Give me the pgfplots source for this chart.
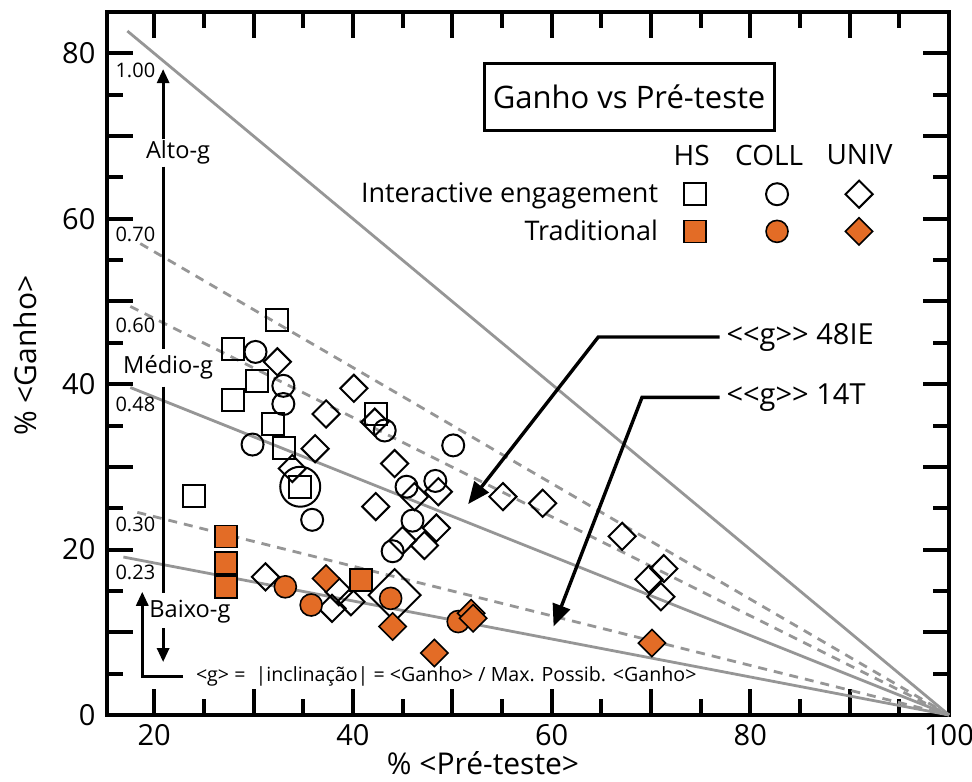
\documentclass[border=0pt]{standalone}
\usepackage{fontspec}
\setmainfont{Open Sans}
\usepackage{pgfplots}
\pgfplotsset{compat=1.18}
\usetikzlibrary{arrows.meta}

\definecolor{trad}{RGB}{227,108,38}
\definecolor{gline}{RGB}{150,150,150}

% keep << and >> from turning into guillemets
\newcommand{\dlt}{<\kern0pt<}
\newcommand{\dgt}{>\kern0pt>}

\begin{document}
\begin{tikzpicture}
\begin{axis}[
    scale only axis,
    width=421pt, height=351.5pt,
    xmin=15.25, xmax=100, ymin=0, ymax=85,
    clip=false,
    axis line style={line width=2pt},
    tick align=inside,
    major tick length=13pt,
    minor tick length=8pt,
    every tick/.style={black, line width=2pt},
    xtick={20,30,...,100},
    xticklabels={20,,40,,60,,80,,100},
    minor xtick={25,35,...,95},
    ytick={0,10,...,80},
    yticklabels={0,,20,,40,,60,,80},
    minor ytick={5,15,...,75},
    /pgf/number format/assume math mode=true,
    tick label style={font=\fontsize{14.5}{16}\selectfont},
    xticklabel style={yshift=-1.3pt},
    yticklabel style={xshift=-2.3pt},
    label style={font=\fontsize{15}{17}\selectfont},
    xlabel={\% <Pré-teste>},
    ylabel={\% <Ganho>},
    xlabel style={at={(axis description cs:0.4466,-0.085)}, anchor=base},
    ylabel style={at={(axis description cs:-0.0974,0.511)}, anchor=center},
    legend columns=3,
    legend plot pos=right,
    legend cell align=right,
    legend image code/.code={%
        \path[draw=none, fill=none] (0pt,0pt) -- (20pt,0pt);
        \draw[mark repeat=2,mark phase=2] plot coordinates {(0pt,0pt) (10pt,0pt) (20pt,0pt)};},
    legend style={draw=none, fill=none, inner sep=0pt, at={(axis cs:93.0,60.7)}, anchor=east,
        font=\fontsize{13.5}{15}\selectfont, row sep=3pt, nodes={inner xsep=0pt, inner ysep=2pt},
        /tikz/every odd column/.append style={column sep=8.5pt},
        /tikz/every even column/.append style={column sep=11.5pt}},
]

% lines of constant <g>
\addplot[gline, line width=1.4pt, forget plot] coordinates {(17.3,82.7) (100,0)};
\addplot[gline, line width=1.4pt, dash pattern=on 4.5pt off 3.5pt, forget plot] coordinates {(18.6,57.0) (100,0)};
\addplot[gline, line width=1.4pt, dash pattern=on 4.5pt off 3.5pt, forget plot] coordinates {(17.6,49.4) (100,0)};
\addplot[gline, line width=1.4pt, forget plot] coordinates {(17.6,39.6) (100,0)};
\addplot[gline, line width=1.4pt, dash pattern=on 4.5pt off 3.5pt, forget plot] coordinates {(18.3,24.5) (100,0)};
\addplot[gline, line width=1.4pt, forget plot] coordinates {(16.9,19.1) (100,0)};

% interactive engagement
\addplot[only marks, black, mark=square, mark size=5.5pt, mark options={line width=1pt, fill=none}] coordinates {
    (32.4,47.7) (27.9,44.3) (30.3,40.4) (27.9,38.1) (32.0,35.2) (33.1,32.3)
    (34.7,27.6) (24.0,26.5) (42.3,36.4)
};
\addlegendentry{Interactive engagement}
\addplot[only marks, black, mark=o, mark size=5.5pt, mark options={line width=1pt, fill=none}] coordinates {
    (30.2,43.9) (33.0,39.8) (33.0,37.6) (29.9,32.7) (43.2,34.4) (50.1,32.6)
    (35.9,23.6) (45.4,27.6) (48.3,28.3) (46.0,23.5) (44.0,19.8)
};
\addlegendentry{\mbox{}}
\addplot[only marks, black, mark=square, mark size=4.8pt, mark options={line width=1pt, fill=none, rotate=45}] coordinates {
    (32.4,42.7) (40.1,39.5) (37.3,36.4) (36.2,32.2) (42.2,35.4) (33.9,29.8)
    (44.2,30.4) (46.2,26.4) (48.6,27.0) (42.3,25.2) (48.4,22.6) (45.0,21.1)
    (47.2,20.5) (55.1,26.4) (59.1,25.6) (67.1,21.6) (71.3,17.7) (69.8,16.4)
    (71.0,14.3) (31.2,16.7) (38.6,14.9) (39.8,13.7) (37.9,12.9)
};
\addlegendentry{\hspace{3.5pt}}
% two large symbols
\addplot[only marks, black, mark=o, mark size=10pt, mark options={line width=1pt, fill=none}, forget plot] coordinates {(34.7,27.6)};
\addplot[only marks, black, mark=square, mark size=9.2pt, mark options={line width=1pt, fill=none, rotate=45}, forget plot] coordinates {(44.2,14.5)};

% traditional
\addplot[only marks, black, mark=square*, mark size=5.5pt, mark options={line width=0.8pt, fill=trad}] coordinates {
    (27.2,21.6) (27.2,18.4) (27.2,15.5) (40.8,16.3)
};
\addlegendentry{Traditional}
\addplot[only marks, black, mark=*, mark size=5.5pt, mark options={line width=0.8pt, fill=trad}] coordinates {
    (33.2,15.5) (35.8,13.3) (43.8,14.1) (50.6,11.3)
};
\addlegendentry{\mbox{}}
\addplot[only marks, black, mark=square*, mark size=4.8pt, mark options={line width=0.8pt, fill=trad, rotate=45}] coordinates {
    (37.3,16.5) (44.0,10.7) (48.2,7.5) (51.9,12.3) (52.1,11.7) (70.1,8.7)
};
\addlegendentry{\hspace{3.5pt}}

% legend header and title box
\node[font=\fontsize{14}{16}\selectfont] at (axis cs:74.1,67.7) {HS};
\node[font=\fontsize{14}{16}\selectfont] at (axis cs:81.9,67.7) {COLL};
\node[font=\fontsize{14}{16}\selectfont] at (axis cs:91.0,67.7) {UNIV};
\node[draw, line width=1.5pt, minimum width=145pt, minimum height=33.5pt,
      font=\fontsize{15.5}{17}\selectfont] at (axis cs:67.8,74.7) {Ganho vs Pré-teste};

% g values at the left end of the lines
\begin{scope}[every node/.style={anchor=west, font=\fontsize{10}{12}\selectfont}]
\node at (axis cs:15.4,77.9) {1.00};
\node at (axis cs:15.4,58.1) {0.70};
\node at (axis cs:15.4,47.1) {0.60};
\node at (axis cs:15.4,37.6) {0.48};
\node at (axis cs:15.4,23.1) {0.30};
\node at (axis cs:15.4,17.3) {0.23};
\end{scope}
\node[anchor=west, font=\fontsize{9.8}{12}\selectfont] at (axis cs:23.5,4.7)
    {<g> =\ \ |inclinação| = <Ganho> / Max. Possib. <Ganho>};

% high / medium / low scale on the left
\begin{scope}[every node/.style={font=\fontsize{11.8}{13}\selectfont}]
\node at (axis cs:22.4,68.0) {Alto-g};
\node at (axis cs:21.4,42.0) {Médio-g};
\node at (axis cs:23.6,12.5) {Baixo-g};
\end{scope}
\draw[line width=1.5pt, -{Triangle[length=7pt,width=6pt]}] (axis cs:20.9,69.6) -- (axis cs:20.9,78.1);
\draw[line width=1.5pt] (axis cs:20.9,66.3) -- (axis cs:20.9,44.3);
\draw[line width=1.5pt] (axis cs:20.9,39.7) -- (axis cs:20.9,14.7);
\draw[line width=1.5pt, -{Triangle[length=7pt,width=6pt]}] (axis cs:20.9,10.5) -- (axis cs:20.9,6.4);
\draw[line width=1.5pt, -{Triangle[length=7pt,width=6pt]}] (axis cs:22.9,4.7) -- (axis cs:18.8,4.7) -- (axis cs:18.8,14.9);

% average gain callouts
\draw[line width=1.7pt, -{Triangle[length=11pt,width=9pt]}] (axis cs:76.9,45.7) -- (axis cs:64.7,45.7) -- (axis cs:51.6,25.5);
\draw[line width=1.7pt, -{Triangle[length=11pt,width=9pt]}] (axis cs:76.9,38.4) -- (axis cs:69.1,38.4) -- (axis cs:60.2,10.7);
\node[anchor=west, font=\fontsize{14.5}{16}\selectfont] at (axis cs:76.9,45.7) {\dlt g\dgt{} 48IE};
\node[anchor=west, font=\fontsize{14.5}{16}\selectfont] at (axis cs:76.9,38.4) {\dlt g\dgt{} 14T};

\end{axis}
\pgfresetboundingbox
\path[use as bounding box] (current axis.south west) ++(-53.5pt,-33pt) rectangle ++(486pt,390.5pt);
\end{tikzpicture}
\end{document}
